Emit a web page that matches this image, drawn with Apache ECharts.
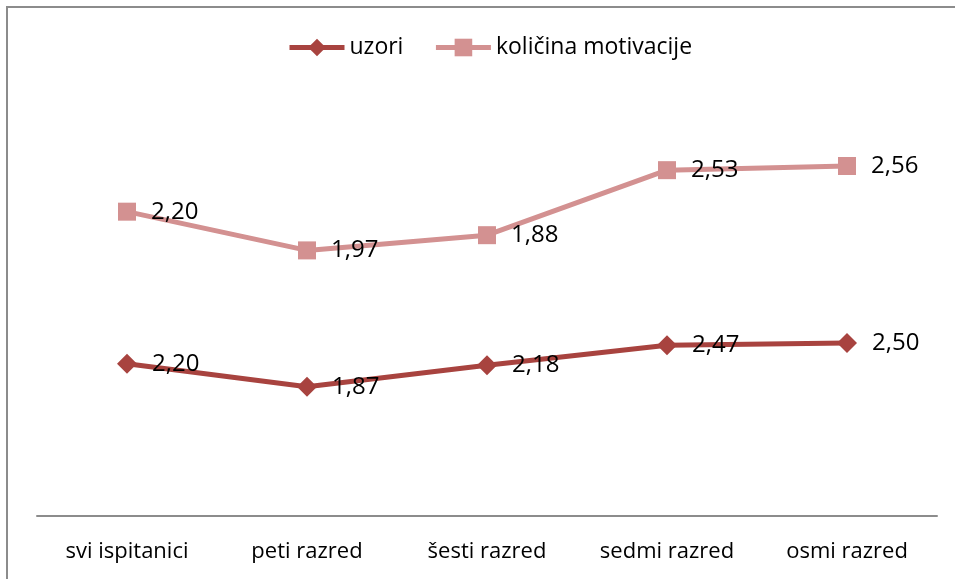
<!DOCTYPE html>
<html>
<head>
<meta charset="utf-8">
<script src="https://cdn.jsdelivr.net/npm/echarts@6/dist/echarts.min.js"></script>
<style>
  html, body { margin: 0; padding: 0; background: #fff; }
  #chart { width: 955px; height: 579px; }
</style>
</head>
<body>
<div id="chart"></div>
<script>
  const categories = ["svi ispitanici", "peti razred", "šesti razred", "sedmi razred", "osmi razred"];
  const uzori = [2.20, 1.87, 2.18, 2.47, 2.50];
  const motivacija = [2.20, 1.97, 1.88, 2.53, 2.56];

  const font = "'Open Sans', 'Noto Sans', sans-serif";

  function fmt(params) {
    return params.value.toFixed(2).replace(".", ",");
  }

  const chart = echarts.init(document.getElementById("chart"));
  chart.setOption({
    animation: false,
    backgroundColor: "#ffffff",
    graphic: [
      {
        type: "rect",
        shape: { x: 7, y: 7, width: 1000, height: 1000 },
        style: { fill: "none", stroke: "#8c8c8c", lineWidth: 2 },
        silent: true
      }
    ],
    legend: {
      top: 31,
      left: 282,
      itemWidth: 55,
      itemHeight: 22,
      itemGap: 30,
      lineStyle: { width: 5 },
      textStyle: { fontFamily: font, fontSize: 23, color: "#000" },
      data: ["uzori", "količina motivacije"]
    },
    grid: { left: 37, right: 18, top: 101, bottom: 63 },
    xAxis: {
      type: "category",
      data: categories,
      boundaryGap: true,
      axisLine: { lineStyle: { color: "#8c8c8c", width: 2 } },
      axisTick: { show: false },
      axisLabel: { interval: 0, fontFamily: font, fontSize: 22, color: "#000", margin: 25 }
    },
    yAxis: {
      type: "value",
      min: 0,
      max: 6,
      show: false
    },
    series: [
      {
        name: "uzori",
        type: "line",
        stack: "total",
        data: uzori,
        symbol: "diamond",
        symbolSize: 20,
        color: "#a8433f",
        lineStyle: { width: 5, color: "#a8433f" },
        label: {
          show: true,
          position: "right",
          distance: 15,
          fontFamily: font,
          fontSize: 24,
          color: "#000",
          formatter: fmt
        }
      },
      {
        name: "količina motivacije",
        type: "line",
        stack: "total",
        data: motivacija,
        symbol: "rect",
        symbolSize: 18,
        color: "#d39191",
        lineStyle: { width: 5, color: "#d39191" },
        label: {
          show: true,
          position: "right",
          distance: 15,
          fontFamily: font,
          fontSize: 24,
          color: "#000",
          formatter: fmt
        }
      }
    ]
  });
</script>
</body>
</html>
